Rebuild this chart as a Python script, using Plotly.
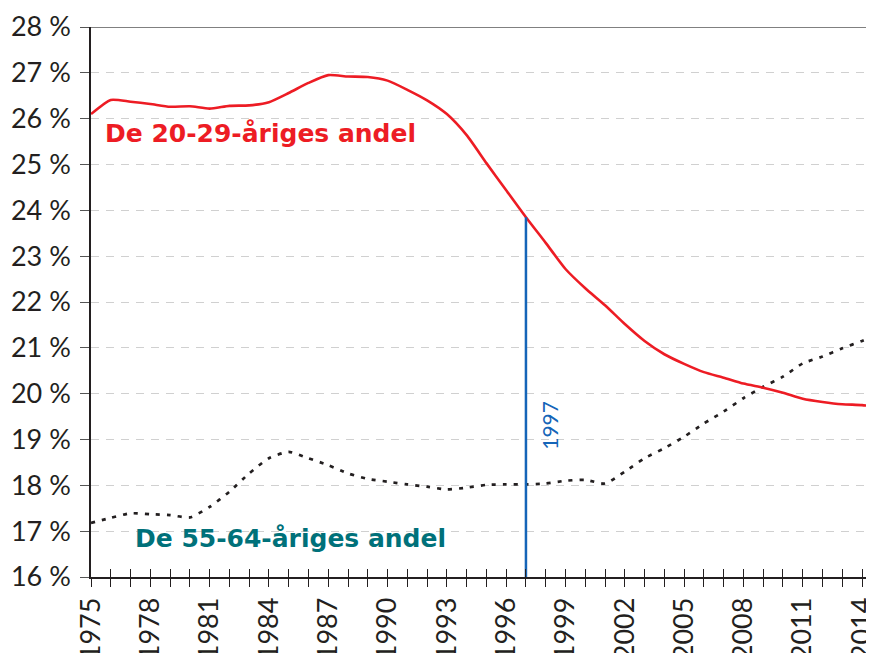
import plotly.graph_objects as go

years = list(range(1975, 2016))
share_20_29 = [26.10, 26.41, 26.37, 26.32, 26.26, 26.27, 26.22, 26.28, 26.29, 26.36,
               26.56, 26.78, 26.95, 26.92, 26.91, 26.83, 26.63, 26.40, 26.10, 25.64,
               25.03, 24.44, 23.85, 23.29, 22.72, 22.30, 21.93, 21.52, 21.15, 20.86,
               20.65, 20.47, 20.35, 20.22, 20.13, 20.02, 19.89, 19.82, 19.77, 19.75,
               19.70]
share_55_64 = [17.18, 17.29, 17.39, 17.37, 17.35, 17.30, 17.53, 17.86, 18.26, 18.59,
               18.73, 18.59, 18.44, 18.26, 18.14, 18.08, 18.02, 17.97, 17.91, 17.95,
               18.01, 18.02, 18.02, 18.04, 18.10, 18.12, 18.04, 18.30, 18.59, 18.81,
               19.06, 19.35, 19.61, 19.90, 20.15, 20.37, 20.66, 20.81, 20.99, 21.15,
               21.32]
marker_year = 1997
y_tick_vals = list(range(16, 29))
y_tick_text = [f"{v} %" for v in y_tick_vals]
x_tick_vals = list(range(1975, 2015))
x_tick_text = [str(y) if (y - 1975) % 3 == 0 else "" for y in x_tick_vals]
label_red = "De 20-29-åriges andel"
label_teal = "De 55-64-åriges andel"

RED = "#ed1c24"
TEAL = "#00717a"
BLUE = "#1565b8"
DARK = "#231f20"
FONT = "Lato"
BOLD_FONT = "DejaVu Sans"

fig = go.Figure()

fig.add_trace(go.Scatter(
    x=years, y=share_55_64, mode="lines",
    line=dict(color=DARK, width=2.7, dash="4px,7px", shape="spline", smoothing=0.6),
    showlegend=False, hoverinfo="skip"))

fig.add_trace(go.Scatter(
    x=years, y=share_20_29, mode="lines",
    line=dict(color=RED, width=2.6, shape="spline", smoothing=0.6),
    showlegend=False, hoverinfo="skip"))

idx = years.index(marker_year)
fig.add_trace(go.Scatter(
    x=[marker_year, marker_year], y=[y_tick_vals[0], share_20_29[idx]], mode="lines",
    line=dict(color=BLUE, width=2.5), showlegend=False, hoverinfo="skip"))

# invisible trace for overlay x-axis (inside ticks)
fig.add_trace(go.Scatter(x=[years[0]], y=[y_tick_vals[0]], xaxis="x2", mode="markers",
                         marker=dict(opacity=0), showlegend=False, hoverinfo="skip"))

xr = [1975, 2014.2]
# the page adds an 8px body margin, so the figure is sized/offset to compensate
fig.update_layout(
    width=858, height=645,
    margin=dict(l=83, r=0, t=19, b=76),
    paper_bgcolor="white", plot_bgcolor="white",
    font=dict(family=FONT, color=DARK),
    xaxis=dict(
        range=xr, tickmode="array", tickvals=x_tick_vals, ticktext=x_tick_text,
        tickangle=-90, ticks="outside", ticklen=8, tickwidth=1.3, tickcolor=DARK,
        showline=True, linecolor=DARK, linewidth=1.6, showgrid=False, zeroline=False,
        automargin=False, ticklabeloverflow="allow",
        tickfont=dict(family=FONT, size=27, color=DARK)),
    xaxis2=dict(
        range=xr, overlaying="x", anchor="y", side="bottom", tickmode="array",
        tickvals=x_tick_vals, showticklabels=False, ticks="inside", ticklen=8,
        tickwidth=1.3, tickcolor=DARK, showline=False, showgrid=False, zeroline=False,
        automargin=False),
    yaxis=dict(
        range=[16, 28], tickmode="array", tickvals=y_tick_vals, ticktext=y_tick_text,
        ticks="outside", ticklen=9, tickwidth=1.3, tickcolor="#555555",
        showline=True, linecolor=DARK, linewidth=1.6, zeroline=False,
        showgrid=True, gridcolor="#d0d0d0", gridwidth=1.4, griddash="8px,7px",
        ticklabelstandoff=4, automargin=False, ticklabeloverflow="allow",
        tickfont=dict(family=FONT, size=27, color=DARK)),
)

fig.add_shape(type="line", xref="paper", yref="y", x0=0, x1=1, y0=28, y1=28,
              line=dict(color="#808080", width=2))

fig.add_annotation(x=xr[0], y=25.67, xref="x", yref="y", xanchor="left", yanchor="middle",
                   xshift=12, text=f"<b>{label_red}</b>", showarrow=False,
                   font=dict(family=BOLD_FONT, size=25, color=RED))
fig.add_annotation(x=xr[0], y=16.83, xref="x", yref="y", xanchor="left", yanchor="middle",
                   xshift=42, text=f"<b>{label_teal}</b>", showarrow=False,
                   font=dict(family=BOLD_FONT, size=25, color=TEAL))
fig.add_annotation(x=marker_year, y=19.32, xref="x", yref="y", xanchor="center",
                   yanchor="middle", xshift=24, text=str(marker_year), textangle=-90,
                   showarrow=False, font=dict(family=FONT, size=21, color=BLUE))

fig.write_html("out.html")
